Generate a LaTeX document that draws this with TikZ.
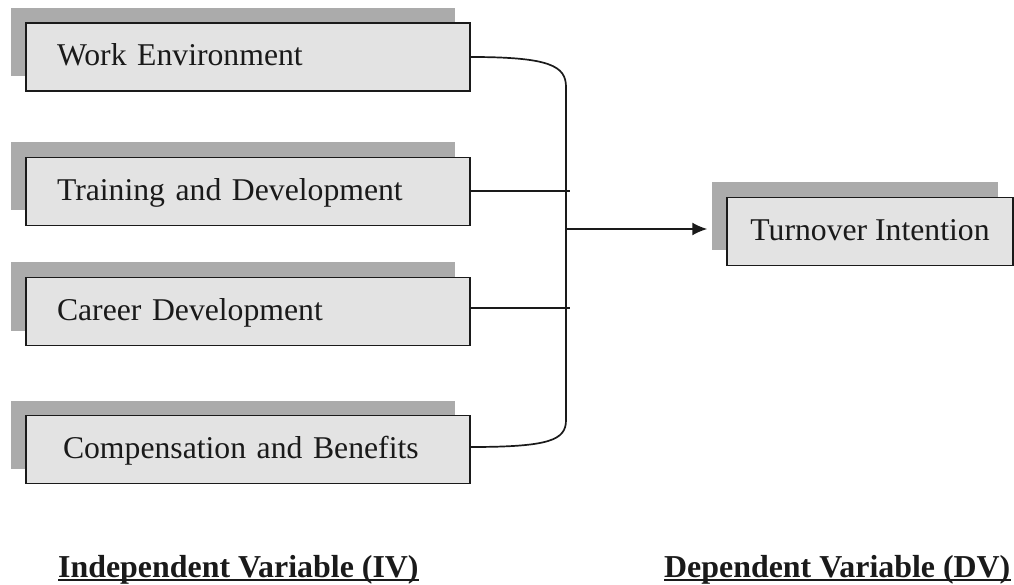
\documentclass[tikz,border=0pt]{standalone}
\usepackage{fontspec}
\setmainfont{Liberation Serif}
\usetikzlibrary{shadows,arrows.meta}
\definecolor{boxfill}{HTML}{E3E3E3}
\definecolor{shadowgray}{HTML}{ABABAB}
\definecolor{inkcol}{HTML}{1A1A1A}
\begin{document}
\begin{tikzpicture}[x=1pt,y=-1pt,
  boxbase/.style={draw=inkcol, line width=1.5pt, fill=boxfill,
    minimum height=68pt, inner sep=0pt, text height=24pt, text depth=6pt,
    text=inkcol, font=\fontsize{31.7}{38}\selectfont,
    general shadow={fill=shadowgray, shadow xshift=-15pt, shadow yshift=15pt}},
  ivbox/.style={boxbase, text width=382pt, inner xsep=31pt, align=left},
  dvbox/.style={boxbase, minimum width=286pt},
  link/.style={draw=inkcol, line width=1.7pt},
  heading/.style={anchor=base west, inner sep=0pt, text=inkcol,
    font=\bfseries\fontsize{31.9}{38}\selectfont},
  underbar/.style={draw=inkcol, line width=2pt}
]
\useasboundingbox (0,0) rectangle (1014,585);

% independent variables
\node[ivbox] (work)  at (248,57)    {Work Environment};
\node[ivbox] (train) at (248,191.5) {Training and Development};
\node[ivbox] (career) at (248,311.5) {Career Development};
\node[ivbox] (comp)  at (248,449.5) {\hspace*{6pt}Compensation and Benefits};

% dependent variable
\node[dvbox] (turn) at (870,231.5) {Turnover Intention};

% collecting bus
\coordinate (bustop) at (566,87);
\coordinate (busbot) at (566,420);
\coordinate (stubend) at (570,0);
\coordinate (junction) at (566,229);

\draw[link] (work.east) .. controls (550,57) and (566,66) .. (bustop)
  -- (busbot) .. controls (566,440) and (550,447) .. ([yshift=2.5pt]comp.east);
\draw[link] ([yshift=0.5pt]train.east) -- ([yshift=0.5pt]train.east -| stubend);
\draw[link] ([yshift=3.5pt]career.east) -- ([yshift=3.5pt]career.east -| stubend);
\draw[link, -{Latex[length=15pt,width=13pt]}] (junction) -- ([xshift=-19pt]junction -| turn.west);

% headings
\node[heading] (ivlabel) at (58,577) {Independent Variable (IV)};
\node[heading] (dvlabel) at (664,577) {Dependent Variable (DV)};
\draw[underbar] ([yshift=-3pt]ivlabel.base west) -- ([yshift=-3pt]ivlabel.base east);
\draw[underbar] ([yshift=-3pt]dvlabel.base west) -- ([yshift=-3pt]dvlabel.base east);
\end{tikzpicture}
\end{document}
